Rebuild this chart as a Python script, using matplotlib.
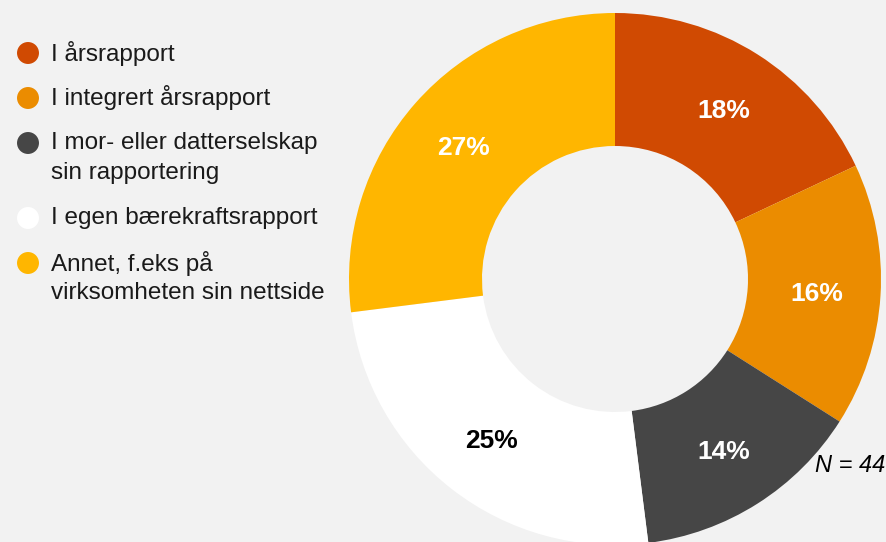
import matplotlib.pyplot as plt

# Data
labels = ['I årsrapport', 'I integrert årsrapport',
          'I mor- eller datterselskap\nsin rapportering',
          'I egen bærekraftsrapport',
          'Annet, f.eks på\nvirksomheten sin nettside']
shares = [18, 16, 14, 25, 27]
colors = ['#D04A02', '#EB8C00', '#464646', '#FFFFFF', '#FFB600']
label_colors = ['white', 'white', 'white', 'black', 'white']
n_note = 'N = 44'

W, H = 886, 542
bg = '#F2F2F2'
plt.rcParams['font.family'] = ['Liberation Sans', 'DejaVu Sans']

fig = plt.figure(figsize=(W / 100, H / 100), dpi=100, facecolor=bg)

# donut: centre (615, 279) px, radius 266 px
cx, cy, R = 615, 279, 266
ax = fig.add_axes([0, 0, 1, 1])
ax.set_facecolor(bg)

wedges, texts = ax.pie(shares, colors=colors, startangle=90, counterclock=False,
                       radius=1, wedgeprops=dict(width=0.5, linewidth=0),
                       labels=[f'{s}%' for s in shares], labeldistance=0.76)
for t, c in zip(texts, label_colors):
    t.set_color(c)
    t.set_fontsize(19)
    t.set_fontweight('bold')
    t.set_ha('center')
    t.set_va('center_baseline')

# pie() resets the limits, so set them afterwards
ax.set_aspect('equal')
ax.set_xlim(-cx / R, (W - cx) / R)
ax.set_ylim(-(H - cy) / R, cy / R)
ax.axis('off')

ax.text((815 - cx) / R, -(465 - cy) / R, n_note, fontsize=17, fontstyle='italic',
        ha='left', va='center', color='black')

# legend (drawn by hand, pixel coordinates)
lax = fig.add_axes([0, 0, 1, 1])
lax.set_xlim(0, W)
lax.set_ylim(H, 0)
lax.axis('off')
y = 53
for lab, col in zip(labels, colors):
    lax.scatter([28], [y], s=250, color=col, edgecolors='none', zorder=3)
    for i, line in enumerate(lab.split('\n')):
        lax.text(51, y + 30 * i, line, fontsize=17.5, color='#1a1a1a',
                 ha='left', va='center')
    y += 45 + 30 * lab.count('\n')

fig.savefig('out.png', dpi=100, facecolor=bg)
